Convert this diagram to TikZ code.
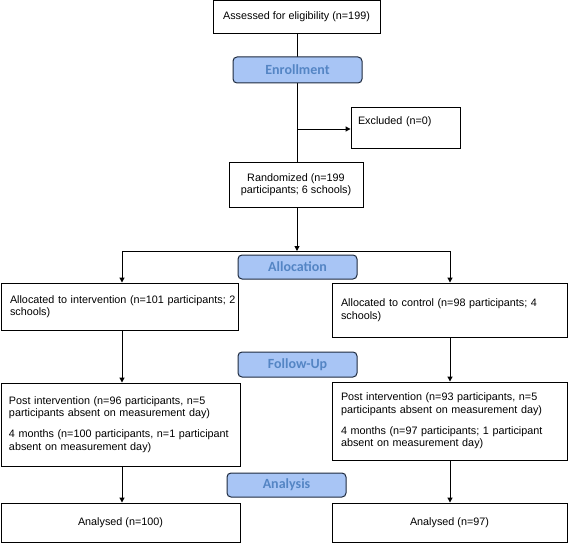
\documentclass[tikz,border=0pt]{standalone}
\usepackage{fontspec}
\setmainfont{Liberation Sans}
\newfontfamily\stagefont{Carlito}
\usetikzlibrary{arrows.meta}
\definecolor{stagefill}{HTML}{A8C5F5}
\definecolor{stagetext}{HTML}{5485C4}
\definecolor{stageline}{HTML}{1E2A3E}
\hfuzz=100pt
\begin{document}
\begin{tikzpicture}[x=1pt,y=-1pt,
  every node/.style={font=\fontsize{10.8}{12.3}\selectfont},
  box/.style={draw=black, line width=0.9pt, fill=white, rectangle, inner ysep=0pt},
  cbox/.style={box, align=center},
  lbox/.style={box, align=left, inner xsep=9pt},
  stage/.style={draw=stageline, line width=1pt, fill=stagefill, rounded corners=4pt,
    minimum width=119pt, minimum height=24pt, inner sep=0pt,
    font=\stagefont\bfseries\fontsize{14}{16}\selectfont, text=stagetext},
  conn/.style={line width=1pt, draw=black},
  arr/.style={conn, -{Triangle[length=5pt,width=5pt]}}
]
\useasboundingbox (0,0) rectangle (568,543);

% connectors behind the boxes
\coordinate (ex) at (297,129);
\coordinate (split) at (297,251);
\coordinate (sl) at (122,251);
\coordinate (sr) at (450,251);

\node[cbox, minimum width=167pt, minimum height=33pt] (assess) at (296.5,17) {Assessed for eligibility (n=199)};
\node[cbox, minimum width=134pt, minimum height=45pt] (rand) at (296,184.5) {Randomized (n=199\\participants; 6 schools)};
\node[box, align=left, inner xsep=7pt, text width=95pt, minimum width=109pt, minimum height=41pt, text depth=13pt] (excl) at (405.5,127.5) {Excluded (n=0)};

\draw[conn] (assess.south -| ex) -- (rand.north -| ex);
\draw[arr] (ex) -- (excl.west |- ex);

\node[stage, minimum width=129pt, minimum height=26pt] (enroll) at (297.5,70) {Enrollment};

\node[lbox, text width=219pt, minimum width=237pt, minimum height=47pt] (intv) at (119.5,306.5) {\mbox{Allocated to intervention (n=101 participants; 2}\\schools)};
\node[lbox, text width=217pt, minimum width=235pt, minimum height=54pt, text depth=14pt] (ctrl) at (449.5,310) {\mbox{Allocated to control (n=98 participants; 4}\\schools)};

\draw[arr] (rand.south -| split) -- (split);
\draw[conn] (sl) -- (sr);
\draw[arr] (sl) -- (intv.north -| sl);
\draw[arr] (sr) -- (ctrl.north -| sr);

\node[stage] (alloc) at (297.5,267) {Allocation};

\node[lbox, inner xsep=8pt, text width=223pt, minimum width=239pt, minimum height=83pt] (postl) at (120.5,424.5) {\mbox{Post intervention (n=96 participants, n=5}\\\mbox{participants absent on measurement day)}\\[9pt]\mbox{4 months (n=100 participants, n=1 participant}\\\mbox{absent on measurement day)}};
\node[lbox, text width=217pt, minimum width=235pt, minimum height=78pt] (postr) at (449.5,421) {\mbox{Post intervention (n=93 participants, n=5}\\\mbox{participants absent on measurement day)}\\[9pt]\mbox{4 months (n=97 participants; 1 participant}\\\mbox{absent on measurement day)}};

\draw[arr] (intv.south -| sl) -- (postl.north -| sl);
\draw[arr] (ctrl.south -| sr) -- (postr.north -| sr);

\node[stage, minimum height=25pt] (follow) at (297.5,364.5) {Follow-Up};

\node[cbox, minimum width=239pt, minimum height=39pt] (anl) at (120.5,522.5) {Analysed (n=100)};
\node[cbox, minimum width=235pt, minimum height=39pt] (anr) at (449.5,522.5) {Analysed (n=97)};

\draw[arr] (postl.south -| sl) -- (anl.north -| sl);
\draw[arr] (postr.south -| sr) -- (anr.north -| sr);

\node[stage] (analysis) at (286.5,485) {Analysis};
\end{tikzpicture}
\end{document}
